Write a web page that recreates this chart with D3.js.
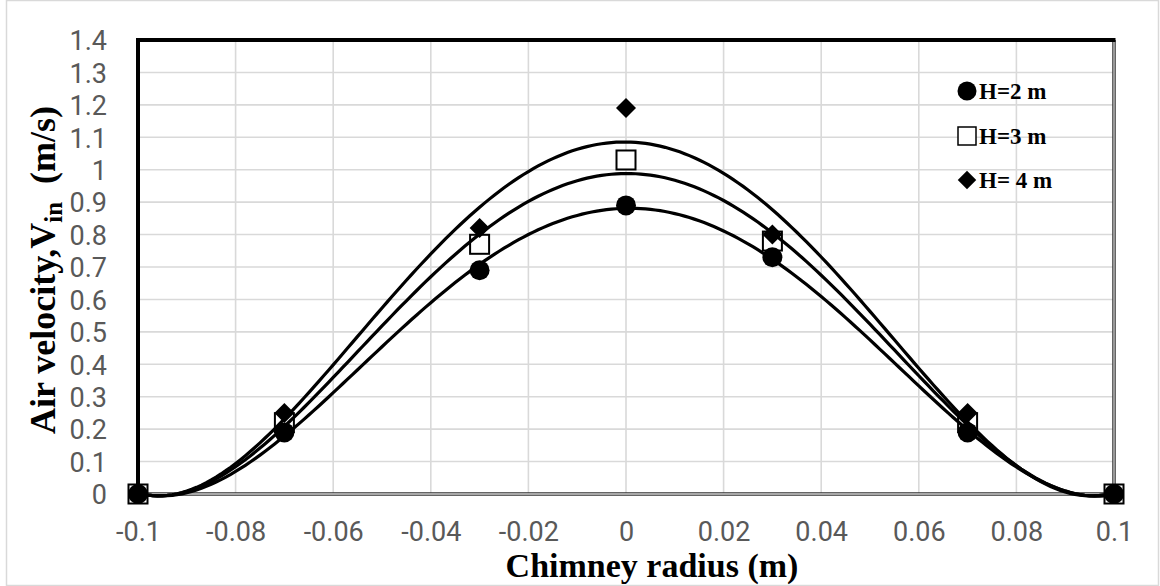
<!DOCTYPE html>
<html>
<head>
<meta charset="utf-8">
<script src="https://cdn.jsdelivr.net/npm/d3@7"></script>
<style>
  body { margin: 0; background: #fff; }
  svg { display: block; }
</style>
</head>
<body>
<script>
const radius = [-0.1, -0.07, -0.03, 0, 0.03, 0.07, 0.1];
const velH2 = [0, 0.19, 0.69, 0.89, 0.73, 0.19, 0];
const velH3 = [0, 0.22, 0.77, 1.03, 0.78, 0.22, 0];
const velH4 = [0, 0.25, 0.82, 1.19, 0.80, 0.25, 0];
const seriesNames = ["H=2 m", "H=3 m", "H= 4 m"];
const xTicks = [-0.1, -0.08, -0.06, -0.04, -0.02, 0, 0.02, 0.04, 0.06, 0.08, 0.1];
const yTicks = [0, 0.1, 0.2, 0.3, 0.4, 0.5, 0.6, 0.7, 0.8, 0.9, 1, 1.1, 1.2, 1.3, 1.4];

const W = 1160, H = 586;
const plot = { left: 138, right: 1114, top: 40, bottom: 494 };

const svg = d3.select('body').append('svg')
  .attr('width', W).attr('height', H);

// chart area border
svg.append('rect')
  .attr('x', 6.5).attr('y', 0.5).attr('width', W - 8).attr('height', H - 1)
  .attr('fill', 'none').attr('stroke', '#d9d9d9').attr('stroke-width', 1.5);

const x = d3.scaleLinear().domain([-0.1, 0.1]).range([plot.left, plot.right]);
const y = d3.scaleLinear().domain([0, 1.4]).range([plot.bottom, plot.top]);

// gridlines
svg.append('g')
  .selectAll('line').data(yTicks).join('line')
  .attr('x1', plot.left).attr('x2', plot.right)
  .attr('y1', d => y(d)).attr('y2', d => y(d))
  .attr('stroke', '#d9d9d9').attr('stroke-width', 1.6);
svg.append('g')
  .selectAll('line').data(xTicks).join('line')
  .attr('x1', d => x(d)).attr('x2', d => x(d))
  .attr('y1', plot.top).attr('y2', plot.bottom)
  .attr('stroke', '#d9d9d9').attr('stroke-width', 1.6);

// bottom + right frame (dark with light centre), left + top solid black
const frame = svg.append('g');
frame.append('path')
  .attr('d', `M${plot.left},${plot.bottom}H${plot.right}V${plot.top}`)
  .attr('fill', 'none').attr('stroke', '#333').attr('stroke-width', 3.5);
frame.append('path')
  .attr('d', `M${plot.left},${plot.bottom}H${plot.right}V${plot.top}`)
  .attr('fill', 'none').attr('stroke', '#cfcfcf').attr('stroke-width', 1.3);
frame.append('path')
  .attr('d', `M${plot.left},${plot.bottom + 1}V${plot.top}H${plot.right + 1.5}`)
  .attr('fill', 'none').attr('stroke', '#000').attr('stroke-width', 4);

// axes (labels only)
const tickFont = "Roboto, 'Open Sans', sans-serif";
const yAxis = svg.append('g')
  .attr('transform', `translate(${plot.left - 31},0)`)
  .call(d3.axisLeft(y).tickValues(yTicks).tickSize(0).tickPadding(0).tickFormat(d => String(d)));
yAxis.select('.domain').remove();
yAxis.selectAll('text')
  .attr('font-family', tickFont).attr('font-size', 27).attr('fill', '#595959')
  .attr('dy', '0.36em');

const xAxis = svg.append('g')
  .attr('transform', `translate(0,${plot.bottom + 47})`)
  .call(d3.axisBottom(x).tickValues(xTicks).tickSize(0).tickPadding(0).tickFormat(d => String(d)));
xAxis.select('.domain').remove();
xAxis.selectAll('text')
  .attr('font-family', tickFont).attr('font-size', 27).attr('fill', '#595959')
  .attr('dy', 0);

// axis titles
const titleFont = "'Liberation Serif', 'DejaVu Serif', serif";
svg.append('text')
  .attr('x', 652).attr('y', 577)
  .attr('text-anchor', 'middle')
  .attr('font-family', titleFont).attr('font-weight', 'bold').attr('font-size', 34)
  .text('Chimney radius (m)');

const yt = svg.append('text')
  .attr('transform', 'translate(55,270) rotate(-90)')
  .attr('text-anchor', 'middle')
  .attr('font-family', titleFont).attr('font-weight', 'bold').attr('font-size', 36);
yt.append('tspan').text('Air velocity,V');
yt.append('tspan').attr('font-size', 25).attr('dy', 7).text('in');
yt.append('tspan').attr('dy', -7).text('\u00a0\u00a0(m/s)');

// polynomial trendline (order 4, least squares) fitted to the measured points
function polyfit(xs, ys, deg) {
  const n = deg + 1;
  const A = Array.from({ length: n }, () => new Array(n + 1).fill(0));
  xs.forEach((xv, k) => {
    const u = xv / 0.1;
    for (let i = 0; i < n; i++) {
      for (let j = 0; j < n; j++) A[i][j] += Math.pow(u, i + j);
      A[i][n] += Math.pow(u, i) * ys[k];
    }
  });
  for (let c = 0; c < n; c++) {
    let p = c;
    for (let r = c + 1; r < n; r++) if (Math.abs(A[r][c]) > Math.abs(A[p][c])) p = r;
    [A[c], A[p]] = [A[p], A[c]];
    for (let r = 0; r < n; r++) {
      if (r === c) continue;
      const f = A[r][c] / A[c][c];
      for (let k = c; k <= n; k++) A[r][k] -= f * A[c][k];
    }
  }
  const coef = A.map((row, i) => row[n] / row[i]);
  return xv => coef.reduce((s, c, i) => s + c * Math.pow(xv / 0.1, i), 0);
}

const series = [velH2, velH3, velH4];

// markers: squares underneath, then circles, then diamonds
const sq = 19;
svg.append('g').selectAll('rect').data(radius.map((r, i) => [r, velH3[i]])).join('rect')
  .attr('x', d => x(d[0]) - sq / 2).attr('y', d => y(d[1]) - sq / 2)
  .attr('width', sq).attr('height', sq)
  .attr('fill', '#fff').attr('stroke', '#000').attr('stroke-width', 2);
svg.append('g').selectAll('circle').data(radius.map((r, i) => [r, velH2[i]])).join('circle')
  .attr('cx', d => x(d[0])).attr('cy', d => y(d[1])).attr('r', 10)
  .attr('fill', '#000');
const diamond = d3.symbol().type(d3.symbolSquare).size(200);
svg.append('g').selectAll('path').data(radius.map((r, i) => [r, velH4[i]])).join('path')
  .attr('d', diamond)
  .attr('transform', d => `translate(${x(d[0])},${y(d[1])}) rotate(45)`)
  .attr('fill', '#000');

// trendlines
const xs = d3.range(0, 201).map(i => -0.1 + i * 0.001);
const line = d3.line().x(d => x(d[0])).y(d => y(d[1])).curve(d3.curveLinear);
series.forEach(vals => {
  const f = polyfit(radius, vals, 4);
  svg.append('path')
    .datum(xs.map(v => [v, f(v)]))
    .attr('d', line)
    .attr('fill', 'none').attr('stroke', '#000').attr('stroke-width', 3.2);
});

// legend
const legend = svg.append('g').attr('font-family', titleFont)
  .attr('font-weight', 'bold').attr('font-size', 23);
const lx = 967, ly = [91, 136, 180];
legend.append('circle').attr('cx', lx).attr('cy', ly[0]).attr('r', 9.5).attr('fill', '#000');
legend.append('rect').attr('x', lx - 9).attr('y', ly[1] - 9).attr('width', 18).attr('height', 18)
  .attr('fill', '#fff').attr('stroke', '#000').attr('stroke-width', 1.5);
legend.append('path').attr('d', d3.symbol().type(d3.symbolSquare).size(170))
  .attr('transform', `translate(${lx},${ly[2]}) rotate(45)`).attr('fill', '#000');
legend.selectAll('text').data(seriesNames).join('text')
  .attr('x', 979).attr('y', (d, i) => ly[i] + 8)
  .attr('fill', '#000')
  .text(d => d);
</script>
</body>
</html>
